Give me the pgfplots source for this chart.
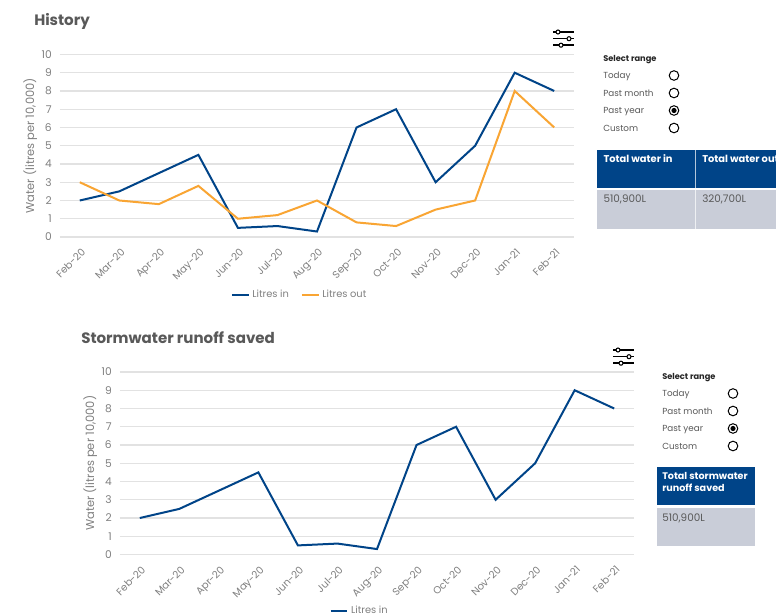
\documentclass[border=0pt]{standalone}
\usepackage{pgfplots}
\usepackage{fontspec}
\pgfplotsset{compat=1.18}
\setmainfont{Poppins}
\definecolor{navy}{HTML}{004488}
\definecolor{amber}{HTML}{F9A533}
\definecolor{gridc}{HTML}{E2E2E2}
\definecolor{txt}{HTML}{808080}
\definecolor{dark}{HTML}{595959}
\definecolor{cellg}{HTML}{C9CDD8}
\newcommand{\sliders}[2]{%
 \begin{scope}[shift={(#1,#2)},x=0.75pt,y=-0.75pt]
 \draw[line width=1.1pt,black] (0,0)--(21,0) (0,6.7)--(21,6.7) (0,13.2)--(21,13.2);
 \fill[white,draw=black,line width=0.8pt] (5,0) circle (2) (16,6.7) circle (2) (8,13.2) circle (2);
 \end{scope}}
\newcommand{\radios}[3]{% label x, radio x, top y in px
 \begin{scope}[x=0.75pt,y=-0.75pt,every node/.style={anchor=base west,inner sep=0pt,font=\fontsize{6.6}{8}\selectfont,text=dark}]
 \node[font=\fontsize{6.2}{8}\selectfont\bfseries,text=black!85] at (#1,#3+3.2) {Select range};
 \node at (#1,#3+20.7) {Today};
 \node at (#1,#3+38.2) {Past month};
 \node at (#1,#3+55.7) {Past year};
 \node at (#1,#3+73.2) {Custom};
 \foreach \d in {17.5,35,52.5,70} {\draw[line width=0.75pt,black] (#2,#3+\d) circle (4.8);}
 \fill[black] (#2,#3+52.5) circle (2.6);
 \end{scope}}
\pgfplotsset{hist/.style={
  scale only axis,width=385.5pt,height=136.9pt,anchor=south west,
  xmin=-0.5,xmax=12.5,ymin=0,ymax=10,
  xtick={0,...,12},ytick={0,...,10},
  xticklabels={Feb-20,Mar-20,Apr-20,May-20,Jun-20,Jul-20,Aug-20,Sep-20,Oct-20,Nov-20,Dec-20,Jan-21,Feb-21},
  x tick label style={rotate=45,anchor=north east,inner sep=1pt,yshift=-5pt,xshift=-4pt,font=\fontsize{7.6}{9}\selectfont,text=txt},
  y tick label style={font=\fontsize{8}{9}\selectfont,text=txt,inner sep=1pt,xshift=-5pt},
  /pgf/number format/assume math mode=true,
  major tick length=0pt,
  axis line style={draw=none},
  ymajorgrids,grid style={gridc,line width=0.8pt},
  ylabel={Water (litres per 10,000)},
  every axis y label/.style={at={(rel axis cs:-0.058,0.5)},rotate=90,anchor=center,font=\fontsize{8.6}{10}\selectfont,text=txt},
  legend style={draw=none,fill=none,font=\fontsize{7.4}{9}\selectfont,text=txt,legend columns=2,anchor=center,
    /tikz/every even column/.append style={column sep=7pt},inner sep=0pt},
  legend image code/.code={\draw[#1,line width=1.5pt] (0cm,0cm) -- (0.44cm,0cm);},
  clip=false}}
\begin{document}
\begin{tikzpicture}[x=1pt,y=1pt]
\path[use as bounding box] (0,0) rectangle (582,-462);
\fill[white] (0,0) rectangle (582,-462);
\begin{scope}
\clip (0,0) rectangle (582,-462);
% tables
\fill[navy] (447.75,-112.5) rectangle (582,-141);
\fill[cellg] (447.75,-142.5) rectangle (582,-171.75);
\draw[white,opacity=.7,line width=0.6pt] (521.5,-112.5)--(521.5,-171.75);
\node[anchor=north west,inner sep=0pt,font=\fontsize{7.4}{9}\selectfont\bfseries,text=white] at (452.5,-116) {Total water in};
\node[anchor=north west,inner sep=0pt,font=\fontsize{7.4}{9}\selectfont\bfseries,text=white] at (526.5,-116) {Total water out};
\node[anchor=north west,inner sep=0pt,font=\fontsize{7.8}{9}\selectfont,text=dark] at (452.5,-146.2) {510,900L};
\node[anchor=north west,inner sep=0pt,font=\fontsize{7.8}{9}\selectfont,text=dark] at (526.5,-146.2) {320,700L};
\end{scope}
\fill[navy] (492.75,-350.25) rectangle (566.25,-378.75);
\fill[cellg] (492.75,-381) rectangle (566.25,-409.5);
\node[anchor=north west,inner sep=0pt,align=left,font=\fontsize{7.2}{9.2}\selectfont\bfseries,text=white] at (496.5,-354) {Total stormwater\\runoff saved};
\node[anchor=north west,inner sep=0pt,font=\fontsize{7.8}{9}\selectfont,text=dark] at (496.5,-385) {510,900L};
% titles
\node[anchor=west,inner sep=0pt,font=\fontsize{11.3}{14}\selectfont\bfseries,text=dark] at (25.5,-16.2) {History};
\node[anchor=west,inner sep=0pt,font=\fontsize{11.3}{14}\selectfont\bfseries,text=dark] at (60.75,-253.5) {Stormwater runoff saved};
\sliders{414.75}{-24}
\sliders{459.75}{-262.5}
\radios{603}{674}{58}
\radios{662}{733}{376}
\begin{axis}[hist,at={(45pt,-177.75pt)},legend style={at={(0.467,-0.318)}}]
\addplot[navy,line width=1.5pt] coordinates {(0,2)(1,2.5)(2,3.5)(3,4.5)(4,0.5)(5,0.6)(6,0.3)(7,6)(8,7)(9,3)(10,5)(11,9)(12,8)};
\addlegendentry{Litres in}
\addplot[amber,line width=1.5pt] coordinates {(0,3)(1,2)(2,1.8)(3,2.8)(4,1)(5,1.2)(6,2)(7,0.8)(8,0.6)(9,1.5)(10,2)(11,8)(12,6)};
\addlegendentry{Litres out}
\end{axis}
\begin{axis}[hist,at={(90pt,-415.9pt)},legend style={at={(0.467,-0.31)}}]
\addplot[navy,line width=1.5pt] coordinates {(0,2)(1,2.5)(2,3.5)(3,4.5)(4,0.5)(5,0.6)(6,0.3)(7,6)(8,7)(9,3)(10,5)(11,9)(12,8)};
\addlegendentry{Litres in}
\end{axis}
\end{tikzpicture}
\end{document}
